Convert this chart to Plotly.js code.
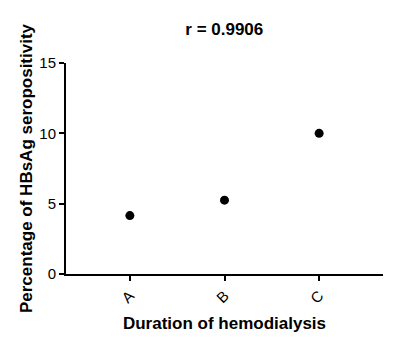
<!DOCTYPE html>
<html>
<head>
<meta charset="utf-8">
<script src="https://cdn.plot.ly/plotly-3.0.1.min.js"></script>
<style>html,body{margin:0;padding:0;background:#fff;}#chart{width:397px;height:354px;}</style>
</head>
<body>
<div id="chart"></div>
<script>
var categories = ["A", "B", "C"];
var seropositivity = [4.15, 5.25, 10.0];
var yTickValues = [0, 5, 10, 15];
var chartTitle = "r = 0.9906";
var xTitle = "Duration of hemodialysis";
var yTitle = "Percentage of HBsAg seropositivity";

var font = "Liberation Sans, Arial, sans-serif";
var trace = {
  x: categories.map(function (c, i) { return i; }),
  y: seropositivity,
  type: "scatter",
  mode: "markers",
  marker: {color: "#000", size: 9},
  hoverinfo: "skip"
};
var layout = {
  width: 397, height: 354,
  margin: {l: 66, r: 14, t: 63, b: 80},
  paper_bgcolor: "#fff", plot_bgcolor: "#fff",
  showlegend: false,
  title: {text: "<b>" + chartTitle + "</b>", font: {family: font, size: 17, color: "#000"},
          x: 0.565, xanchor: "center", y: 0.918, yanchor: "middle"},
  xaxis: {
    range: [-0.675, 2.675],
    tickvals: [0, 1, 2], ticktext: categories,
    tickangle: -45,
    showgrid: false, zeroline: false,
    showline: true, linecolor: "#000", linewidth: 2,
    ticks: "outside", ticklen: 5, tickwidth: 2, tickcolor: "#000",
    tickfont: {family: font, size: 15, color: "#000"},
    title: {text: "<b>" + xTitle + "</b>", font: {family: font, size: 17, color: "#000"}, standoff: 12},
    automargin: false
  },
  yaxis: {
    range: [0, 15],
    tickvals: yTickValues,
    showgrid: false, zeroline: false,
    showline: true, linecolor: "#000", linewidth: 2,
    ticks: "outside", ticklen: 5, tickwidth: 2, tickcolor: "#000",
    tickfont: {family: font, size: 15, color: "#000"},
    title: {text: "<b>" + yTitle + "</b>", font: {family: font, size: 17, color: "#000"}, standoff: 2},
    automargin: false
  }
};
Plotly.newPlot("chart", [trace], layout, {displayModeBar: false, staticPlot: true});
</script>
</body>
</html>
